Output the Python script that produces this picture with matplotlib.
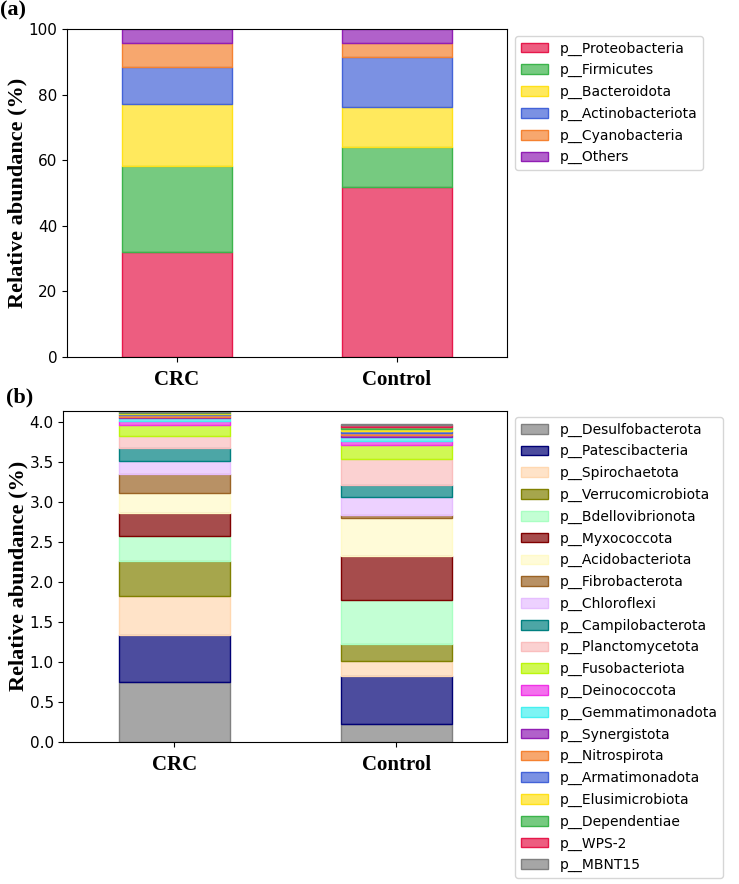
import numpy as np
import matplotlib
matplotlib.use("Agg")
import matplotlib.pyplot as plt
from matplotlib.colors import to_rgba

groups = ["CRC", "Control"]

# panel (a): top phyla, % relative abundance
phyla_a = ["p__Proteobacteria", "p__Firmicutes", "p__Bacteroidota",
           "p__Actinobacteriota", "p__Cyanobacteria", "p__Others"]
crc_a = [32.0, 26.3, 18.7, 11.5, 7.1, 4.4]
ctrl_a = [51.7, 12.3, 12.1, 15.4, 4.3, 4.2]

# panel (b): low abundance phyla
phyla_b = ["p__Desulfobacterota", "p__Patescibacteria", "p__Spirochaetota",
           "p__Verrucomicrobiota", "p__Bdellovibrionota", "p__Myxococcota",
           "p__Acidobacteriota", "p__Fibrobacterota", "p__Chloroflexi",
           "p__Campilobacterota", "p__Planctomycetota", "p__Fusobacteriota",
           "p__Deinococcota", "p__Gemmatimonadota", "p__Synergistota",
           "p__Nitrospirota", "p__Armatimonadota", "p__Elusimicrobiota",
           "p__Dependentiae", "p__WPS-2", "p__MBNT15"]
crc_b = [0.75, 0.58, 0.49, 0.44, 0.31, 0.30, 0.25, 0.23, 0.17, 0.16, 0.15,
         0.13, 0.055, 0.035, 0.018, 0.017, 0.015, 0.015, 0.012, 0.008, 0.006]
ctrl_b = [0.22, 0.60, 0.19, 0.21, 0.55, 0.56, 0.47, 0.035, 0.225, 0.15, 0.33,
          0.18, 0.05, 0.05, 0.02, 0.025, 0.025, 0.02, 0.025, 0.03, 0.01]

colors_a = ["#e6194b", "#3cb44b", "#ffe119", "#4363d8", "#f58231", "#911eb4"]
colors_b = ["#808080", "#000075", "#ffd8b1", "#808000", "#aaffc3", "#800000",
            "#fffac8", "#9a6324", "#e6beff", "#008080", "#fabebe", "#bcf60c",
            "#f032e6", "#46f0f0", "#911eb4", "#f58231", "#4363d8", "#ffe119",
            "#3cb44b", "#e6194b", "#808080"]

serif = "Liberation Serif"


def stacked(ax, labels, crc, ctrl, colors):
    x = np.arange(len(groups))
    bottoms = np.zeros(len(groups))
    for lab, a, b, c in zip(labels, crc, ctrl, colors):
        vals = np.array([a, b])
        ax.bar(x, vals, width=0.5, bottom=bottoms, label=lab,
               facecolor=to_rgba(c, 0.7), edgecolor=c, linewidth=1)
        bottoms += vals
    ax.set_xlim(-0.5, 1.5)
    ax.set_xticks(x)
    ax.set_xticklabels(groups, fontfamily=serif, fontweight="bold", fontsize=15)
    ax.tick_params(axis="x", pad=6)
    ax.tick_params(axis="y", labelsize=11)
    ax.set_ylabel("Relative abundance (%)", fontfamily=serif,
                  fontweight="bold", fontsize=16, labelpad=1)


fig = plt.figure(figsize=(7.39, 8.84), dpi=100)

ax1 = fig.add_axes([0.0907, 0.5962, 0.5954, 0.371])
stacked(ax1, phyla_a, crc_a, ctrl_a, colors_a)
ax1.set_ylim(0, 100)
ax1.legend(loc="upper left", bbox_to_anchor=(1.018, 0.979), borderaxespad=0,
           fontsize=10, labelspacing=0.55)

ax2 = fig.add_axes([0.0859, 0.161, 0.6008, 0.3744])
stacked(ax2, phyla_b, crc_b, ctrl_b, colors_b)
ax2.set_ylim(0, 4.145)
ax2.legend(loc="upper left", bbox_to_anchor=(1.017, 0.981), borderaxespad=0,
           fontsize=10, labelspacing=0.55)

fig.text(0.0, 0.999, "(a)", fontfamily=serif, fontweight="bold", fontsize=16,
         va="top", ha="left")
fig.text(0.008, 0.562, "(b)", fontfamily=serif, fontweight="bold", fontsize=16,
         va="top", ha="left")

fig.savefig("out.png", dpi=100)
